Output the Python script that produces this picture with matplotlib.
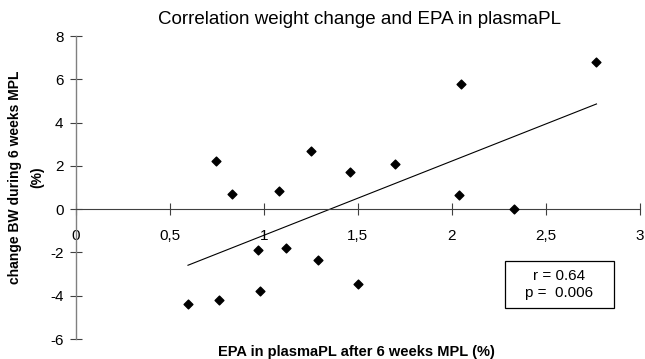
import numpy as np
import matplotlib.pyplot as plt
from matplotlib.patches import Rectangle

plt.rcParams['font.family'] = ['Liberation Sans', 'DejaVu Sans']
plt.rcParams['axes.unicode_minus'] = False

# EPA in plasma PL (%) and weight change (%)
epa = [0.596, 0.76, 0.745, 0.83, 0.98, 0.97, 1.08, 1.12, 1.25, 1.29,
       1.46, 1.70, 2.04, 2.33, 1.50, 2.05, 2.77]
bw_change = [-4.37, -4.19, 2.23, 0.70, -3.80, -1.90, 0.83, -1.80, 2.70, -2.37,
             1.72, 2.10, 0.65, 0.00, -3.44, 5.80, 6.80]

x_ticks = [0, 0.5, 1, 1.5, 2, 2.5, 3]
x_tick_labels = ['0', '0,5', '1', '1,5', '2', '2,5', '3']
y_ticks = [-6, -4, -2, 0, 2, 4, 6, 8]
stats_text = 'r = 0.64\np =  0.006'

x = np.array(epa)
y = np.array(bw_change)
slope, intercept = np.polyfit(x, y, 1)
xl = np.array([x.min(), x.max()])

fig = plt.figure(figsize=(6.45, 3.59), dpi=100)
ax = fig.add_axes([0.1178, 0.0557, 0.874, 0.844])

ax.scatter(x, y, marker='D', s=20, color='black', zorder=3)
ax.plot(xl, slope * xl + intercept, color='black', linewidth=0.8)

ax.set_xlim(0, 3)
ax.set_ylim(-6, 8)
ax.spines['top'].set_visible(False)
ax.spines['right'].set_visible(False)
ax.spines['bottom'].set_position(('data', 0))
ax.spines['left'].set_color('#808080')
ax.spines['bottom'].set_color('#404040')
ax.spines['left'].set_linewidth(1.0)
ax.spines['bottom'].set_linewidth(0.8)

ax.set_xticks(x_ticks)
ax.set_xticklabels(x_tick_labels)
ax.set_yticks(y_ticks)
ax.tick_params(axis='x', direction='inout', length=8, width=0.8,
               color='#404040', labelsize=11, pad=10)
ax.tick_params(axis='y', direction='inout', length=8, width=0.8,
               color='#404040', labelsize=11, pad=5)

# titles / axis labels placed in figure pixels
W, H = 645, 359
fig.text(360 / W, 1 - 19 / H, 'Correlation weight change and EPA in plasmaPL',
         fontsize=13.5, ha='center', va='center')
fig.text(356 / W, 1 - 352 / H, 'EPA in plasmaPL after 6 weeks MPL (%)',
         fontsize=10.5, fontweight='bold', ha='center', va='center')
fig.text(15 / W, 1 - 177 / H, 'change BW during 6 weeks MPL',
         fontsize=10, fontweight='bold', ha='center', va='center',
         rotation=90)
fig.text(37 / W, 1 - 177 / H, '(%)',
         fontsize=10, fontweight='bold', ha='center', va='center',
         rotation=90)

# stats box
ax.add_patch(Rectangle((0.761, 0.102), 0.193, 0.155, transform=ax.transAxes,
                       facecolor='white', edgecolor='black', linewidth=0.9,
                       zorder=4))
ax.text(0.8575, 0.18, stats_text, transform=ax.transAxes, fontsize=11,
        ha='center', va='center', linespacing=1.25, zorder=5)

plt.savefig('out.png', dpi=100)
